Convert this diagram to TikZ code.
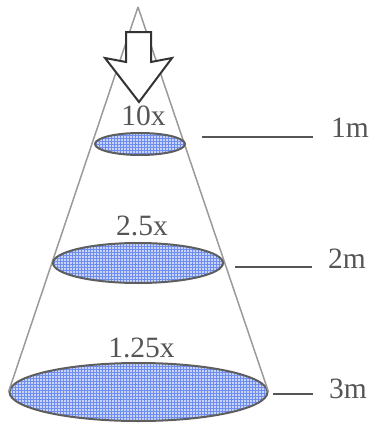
\documentclass[tikz,border=0pt]{standalone}
\usepackage{fontspec}
\setmainfont{Liberation Serif}
\usetikzlibrary{shapes.geometric,patterns}
\definecolor{txtgray}{HTML}{555555}
\definecolor{conegray}{HTML}{9A9A9A}
\definecolor{rimgray}{HTML}{5E5E5E}
\definecolor{spotbg}{HTML}{C8D5F7}
\definecolor{spotfg}{HTML}{6E8DEE}
\tikzset{
  spot/.style={ellipse, draw=rimgray, line width=2pt, inner sep=0pt,
    pattern=grid, pattern color=spotfg},
  spotbase/.style={ellipse, fill=spotbg, inner sep=0pt, draw=none},
  cone/.style={draw=conegray, line width=1.5pt},
  tick/.style={draw=txtgray, line width=2pt},
  lbl/.style={font=\fontsize{29.5}{29.5}\selectfont, text=txtgray, inner sep=0pt},
  arrowbody/.style={draw=black!80, line width=2pt, fill=white, line join=miter}
}
\begin{document}
\begin{tikzpicture}[x=1pt,y=-1pt]
\useasboundingbox (0,0) rectangle (368,423);
% cone
\coordinate (apex) at (138,7);
\node[spotbase, minimum width=258pt, minimum height=58pt] (b3) at (138.5,392) {};
\node[spot, minimum width=258pt, minimum height=58pt] (e3) at (138.5,392) {};
\draw[cone] (apex) -- (e3.west);
\draw[cone] (apex) -- (e3.east);
\node[spotbase, minimum width=170pt, minimum height=40pt] (b2) at (138,263) {};
\node[spot, minimum width=170pt, minimum height=40pt] (e2) at (138,263) {};
\node[spotbase, minimum width=90pt, minimum height=22pt] (b1) at (140,144) {};
\node[spot, minimum width=90pt, minimum height=22pt] (e1) at (140,144) {};
% arrow
\draw[arrowbody] (126,32) -- (151,32) -- (151,62) -- (172,58) -- (139,102) -- (105,58) -- (126,62) -- cycle;
% factor labels
\node[lbl, anchor=base] (f1) at (143.5,125) {10x};
\node[lbl, anchor=base] (f2) at (142,235) {2.5x};
\node[lbl, anchor=base] (f3) at (141.5,357) {1.25x};
% distance ticks
\coordinate (t1a) at (202,137); \coordinate (t1b) at (313,137);
\coordinate (t2a) at (235,267); \coordinate (t2b) at (312,267);
\coordinate (t3a) at (273,394); \coordinate (t3b) at (313,394);
\draw[tick] (t1a) -- (t1b);
\draw[tick] (t2a) -- (t2b);
\draw[tick] (t3a) -- (t3b);
\node[lbl, anchor=base west] (d1) at (331,137) {1m};
\node[lbl, anchor=base west] (d2) at (328,268) {2m};
\node[lbl, anchor=base west] (d3) at (329,398) {3m};
\end{tikzpicture}
\end{document}
